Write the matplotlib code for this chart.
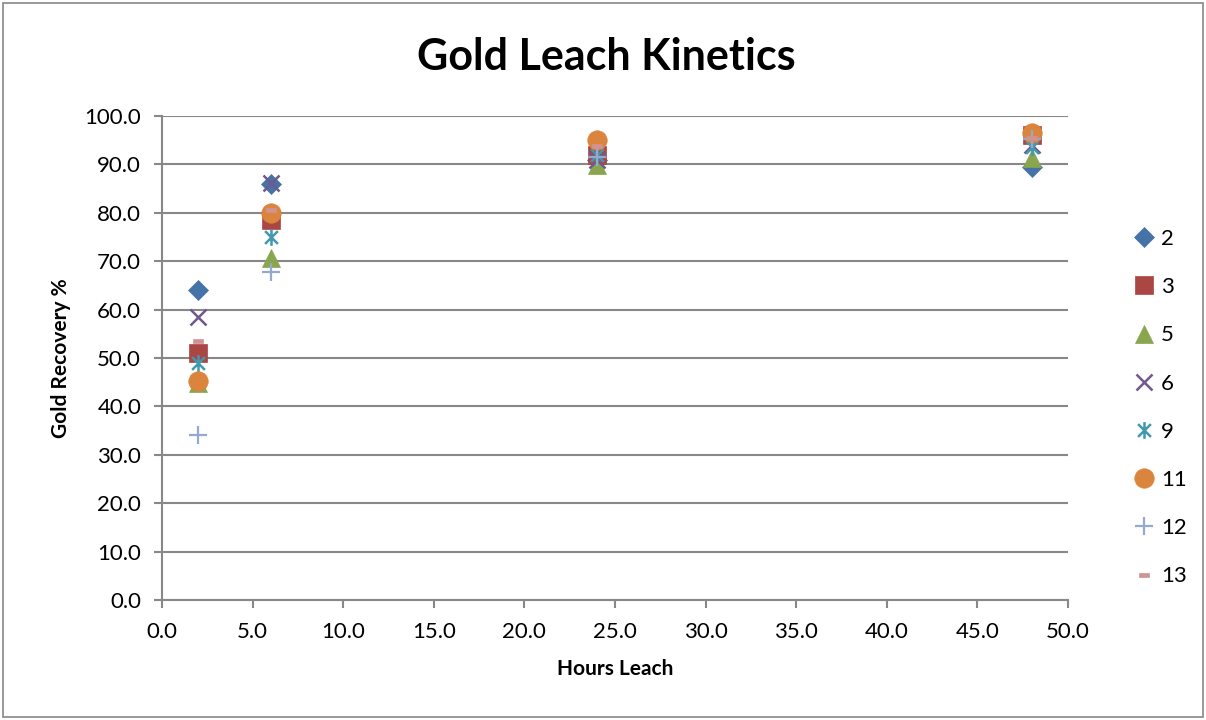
import matplotlib
matplotlib.use("Agg")
import matplotlib.pyplot as plt
from matplotlib.path import Path
from matplotlib.patches import Rectangle
from matplotlib.ticker import FormatStrFormatter, MultipleLocator

plt.rcParams['font.family'] = ['Lato', 'DejaVu Sans']

hours = [2, 6, 24, 48]
series_names = ["2", "3", "5", "6", "9", "11", "12", "13"]
s2 = [64.0, 86.0, 91.0, 89.5]
s3 = [51.0, 78.5, 92.0, 96.0]
s5 = [44.8, 70.7, 89.8, 91.3]
s6 = [58.5, 86.2, 91.0, 94.0]
s9 = [49.0, 75.0, 92.0, 93.6]
s11 = [45.3, 80.0, 95.0, 96.5]
s12 = [34.0, 67.8, 91.5, 95.2]
s13 = [53.5, 80.5, 93.8, 95.4]
values = [s2, s3, s5, s6, s9, s11, s12, s13]

colors = ["#4572A7", "#AA4643", "#89A54E", "#71588F", "#4198AF", "#DB843D", "#93A9CF", "#D19392"]

star = Path([(-1, -1), (1, 1), (-1, 1), (1, -1), (0, -1.3), (0, 1.3)],
            [Path.MOVETO, Path.LINETO, Path.MOVETO, Path.LINETO, Path.MOVETO, Path.LINETO])
dash = Path([(-1, -0.45), (1, -0.45), (1, 0.45), (-1, 0.45), (-1, -0.45)],
            [Path.MOVETO, Path.LINETO, Path.LINETO, Path.LINETO, Path.CLOSEPOLY])

styles = [
    dict(marker="D", markersize=10.5),
    dict(marker="s", markersize=13),
    dict(marker="^", markersize=13),
    dict(marker="x", markersize=12, mew=1.8),
    dict(marker=star, markersize=12, mew=1.8),
    dict(marker="o", markersize=14),
    dict(marker="+", markersize=13, mew=1.6),
    dict(marker=dash, markersize=7),
]
line_markers = (1, 1, 1, 0, 0, 1, 0, 1)

fig = plt.figure(figsize=(12.06, 7.2), dpi=100)
ax = fig.add_axes([162/1206, 1 - 600/720, (1068-162)/1206, (600-116)/720])

for name, vals, c, st, filled in zip(series_names, values, colors, styles, line_markers):
    if filled:
        ax.plot(hours, vals, linestyle="none", color=c, mfc=c, mec=c, mew=0.5, label=name, **st)
    else:
        ax.plot(hours, vals, linestyle="none", color=c, mec=c, label=name, **st)

ax.set_xlim(0, 50)
ax.set_ylim(0, 100)
ax.xaxis.set_major_locator(MultipleLocator(5))
ax.yaxis.set_major_locator(MultipleLocator(10))
ax.xaxis.set_major_formatter(FormatStrFormatter("%.1f"))
ax.yaxis.set_major_formatter(FormatStrFormatter("%.1f"))
ax.grid(axis="y", color="#888888", linewidth=1.5)
ax.set_axisbelow(True)
for s in ["top", "right"]:
    ax.spines[s].set_visible(False)
for s in ["left", "bottom"]:
    ax.spines[s].set_color("#888888")
    ax.spines[s].set_linewidth(1.5)
ax.tick_params(axis="both", direction="out", length=6, width=1.5, color="#888888",
               labelsize=16, labelcolor="black")
ax.tick_params(axis="y", pad=9)
ax.tick_params(axis="x", pad=10)
ax.set_xlabel("Hours Leach", fontsize=15, fontweight="bold", labelpad=12)
ax.set_ylabel("Gold Recovery %", fontsize=15, fontweight="bold", labelpad=10)

fig.text(606/1206, 1 - 57/720, "Gold Leach Kinetics", ha="center", va="center",
         fontsize=31, fontweight="bold")

leg = fig.legend(loc="upper left", bbox_to_anchor=(1122/1206, 1 - 220/720), frameon=False,
                 fontsize=16, labelspacing=1.27, handletextpad=0.15, handlelength=1.2,
                 borderaxespad=0)

fig.patches.append(Rectangle((3/1206, 3/720), 1200/1206, 714/720, transform=fig.transFigure,
                             fill=False, edgecolor="#888888", linewidth=1.2))

fig.savefig("out.png", dpi=100, facecolor="white")
